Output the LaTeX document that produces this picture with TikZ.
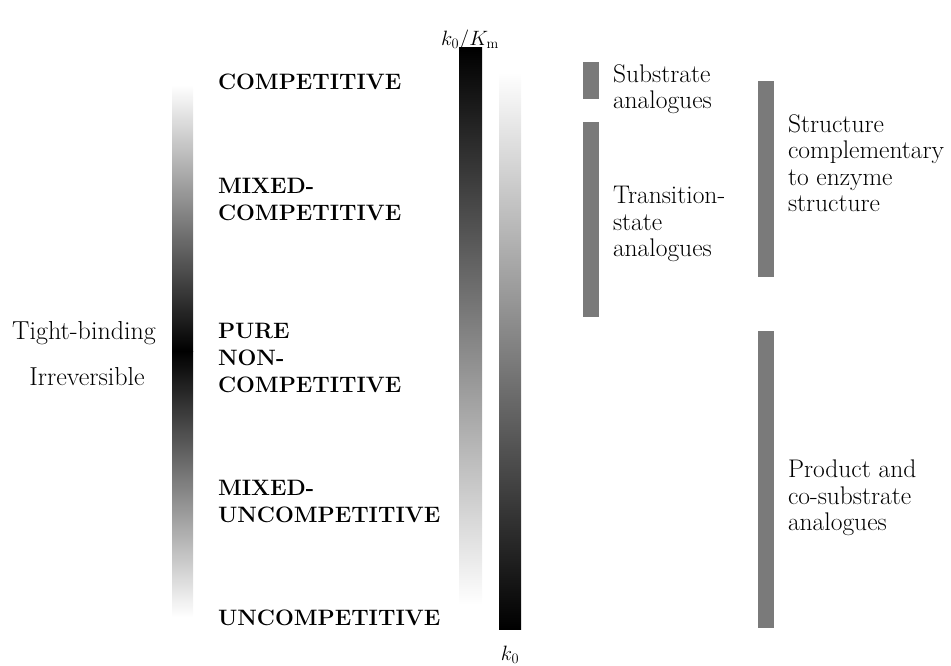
\documentclass[tikz,border=0pt]{standalone}
\usepackage{amsmath}
\definecolor{bb}{RGB}{122, 122, 122}

\begin{document}
\begin{tikzpicture}[x=1pt, y=1pt,
  every node/.style={inner sep=0pt, outer sep=0pt},
  kind/.style={anchor=west, align=left, font=\fontsize{22.3}{27}\selectfont\bfseries},
  use/.style={anchor=west, align=left, font=\fontsize{25.5}{26.5}\selectfont},
  bar/.style={rectangle, fill=bb, minimum width=16pt},
  rate/.style={font=\fontsize{20}{22}\selectfont}]
\useasboundingbox (0,0) rectangle (951,-666);
% shaded scales
\node (scaletop) [rectangle, minimum width=21pt, minimum height=266pt, top color=white, bottom color=black] at (182.5pt, -218pt) {};
\node (scalebot) [rectangle, minimum width=21pt, minimum height=266pt, top color=black, bottom color=white] at (182.5pt, -484pt) {};
\node (kcat) [rectangle, minimum width=23pt, minimum height=557pt, top color=black, bottom color=white] at (470.5pt, -326.5pt) {};
\node (kzero) [rectangle, minimum width=22pt, minimum height=557pt, top color=white, bottom color=black] at (510pt, -350.5pt) {};
\node (kcatlab) [rate] at (470pt, -40pt) {$k_0/K_\mathrm{m}$};
\node (kzerolab) [rate] at (510pt, -655pt) {$k_0$};
% left labels
\node (tight) [font=\fontsize{26}{26}\selectfont] at (84pt, -333pt) {Tight-binding};
\node (irrev) [font=\fontsize{26}{26}\selectfont] at (87pt, -377pt) {Irreversible};
\node (comp) [kind] at (218pt, -82pt) {COMPETITIVE};
\node (mixc) [kind] at (218pt, -199pt) {MIXED-\\COMPETITIVE};
\node (pure) [kind] at (218pt, -358pt) {PURE\\NON-\\COMPETITIVE};
\node (mixu) [kind] at (218pt, -501pt) {MIXED-\\UNCOMPETITIVE};
\node (uncomp) [kind] at (218pt, -618pt) {UNCOMPETITIVE};
% grey ranges
\node (subs) [bar, minimum height=37pt] at (591pt, -80.5pt) {};
\node (trans) [bar, minimum height=195pt] at (591pt, -219.5pt) {};
\node (struct) [bar, minimum height=196pt] at (765.5pt, -179pt) {};
\node (prod) [bar, minimum height=297pt] at (765.5pt, -479.5pt) {};
\node (subslab) [use] at (613pt, -89pt) {Substrate\\analogues};
\node (translab) [use] at (613pt, -224pt) {Transition-\\state\\analogues};
\node (structlab) [use] at (788pt, -163pt) {Structure\\complementary\\to enzyme\\structure};
\node (prodlab) [use] at (788pt, -498pt) {Product and\\co-substrate\\analogues};
\end{tikzpicture}
\end{document}
